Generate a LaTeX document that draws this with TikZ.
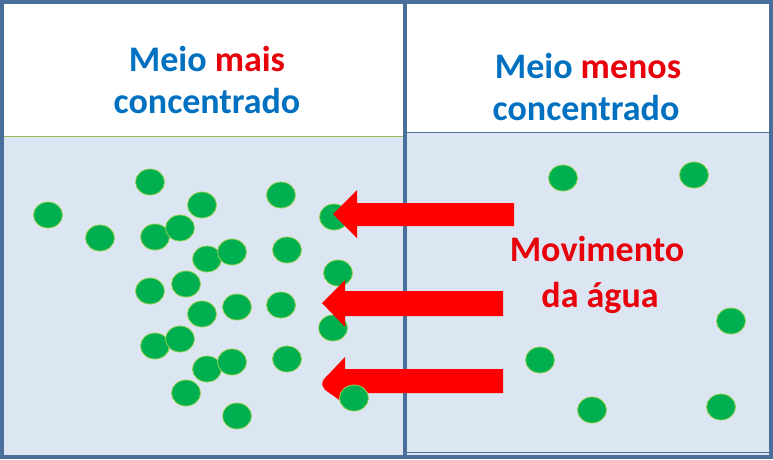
\documentclass[tikz,border=0pt]{standalone}
\usepackage{fontspec}
\setmainfont{Carlito}
\definecolor{frameblue}{HTML}{4A6F9B}
\definecolor{panelfill}{HTML}{DCE6F2}
\definecolor{txtblue}{HTML}{0070C0}
\definecolor{txtred}{HTML}{E8000B}
\definecolor{dotgreen}{HTML}{00B050}
\definecolor{dotedge}{HTML}{92D050}
\definecolor{linegreen}{HTML}{9BBB59}
\tikzset{
  dot/.style={fill=dotgreen,draw=dotedge,line width=0.8pt},
  blockarrow/.style={fill=red,draw=none},
  title/.style={font=\bfseries\fontsize{36}{42}\selectfont,text=txtblue,inner sep=0pt,anchor=base},
}
\newcommand{\mydot}[2]{\path[dot] (#1,#2) ellipse [x radius=14.5,y radius=13];}
\begin{document}
\begin{tikzpicture}[x=1pt,y=-1pt]
\useasboundingbox (0,0) rectangle (773,459);
% panels
\fill[panelfill] (0,0) rectangle (773,459);
\fill[white] (2,2) rectangle (405,136);
\fill[white] (405,2) rectangle (771,132);
\draw[linegreen,line width=1pt] (2,136) -- (405,136);
\draw[frameblue,line width=1pt] (405,132) -- (771,132);
\draw[frameblue,line width=1pt] (405,452.5) -- (771,452.5);
\draw[frameblue,line width=4pt] (405,0) -- (405,459);
\draw[frameblue,line width=4pt] (2,2) rectangle (771,457);
% titles
\node[title] (tl1) at (207,71) {Meio \textcolor{txtred}{mais}};
\node[title] (tl2) at (207,113) {concentrado};
\node[title] (tr1) at (588,78) {Meio \textcolor{txtred}{menos}};
\node[title] (tr2) at (586,120) {concentrado};
\node[title,text=txtred] (mv1) at (597,261) {Movimento};
\node[title,text=txtred] (mv2) at (600,307) {da água};
% dots
\mydot{48}{215}\mydot{100}{238}\mydot{150}{182}\mydot{155}{237}\mydot{180}{228}
\mydot{202}{205}\mydot{207}{259}\mydot{232}{252}\mydot{281}{195}\mydot{287}{250}
\mydot{334}{217}\mydot{150}{291}\mydot{186}{284}\mydot{202}{314}\mydot{237}{307}
\mydot{281}{305}\mydot{338}{273}\mydot{333}{328}\mydot{155}{346}\mydot{180}{339}
\mydot{207}{369}\mydot{232}{362}\mydot{287}{359}\mydot{186}{393}\mydot{237}{416}
\mydot{563}{178}\mydot{694}{175}\mydot{731}{321}\mydot{540}{360}\mydot{592}{410}\mydot{721}{407}
% arrows
\path[blockarrow] (514,203) -- (357,203) -- (357,190) -- (333,214) -- (357,238) -- (357,226) -- (514,226) -- cycle;
\path[blockarrow] (503,291) -- (345,291) -- (345,280) -- (322,303) -- (345,327) -- (345,316) -- (503,316) -- cycle;
\path[blockarrow] (503,369) -- (345,369) -- (345,357) -- (325,378) .. controls (320,383) and (322,388) .. (328,392) -- (345,404) -- (345,393) -- (503,393) -- cycle;
\mydot{354}{398}
\end{tikzpicture}
\end{document}
